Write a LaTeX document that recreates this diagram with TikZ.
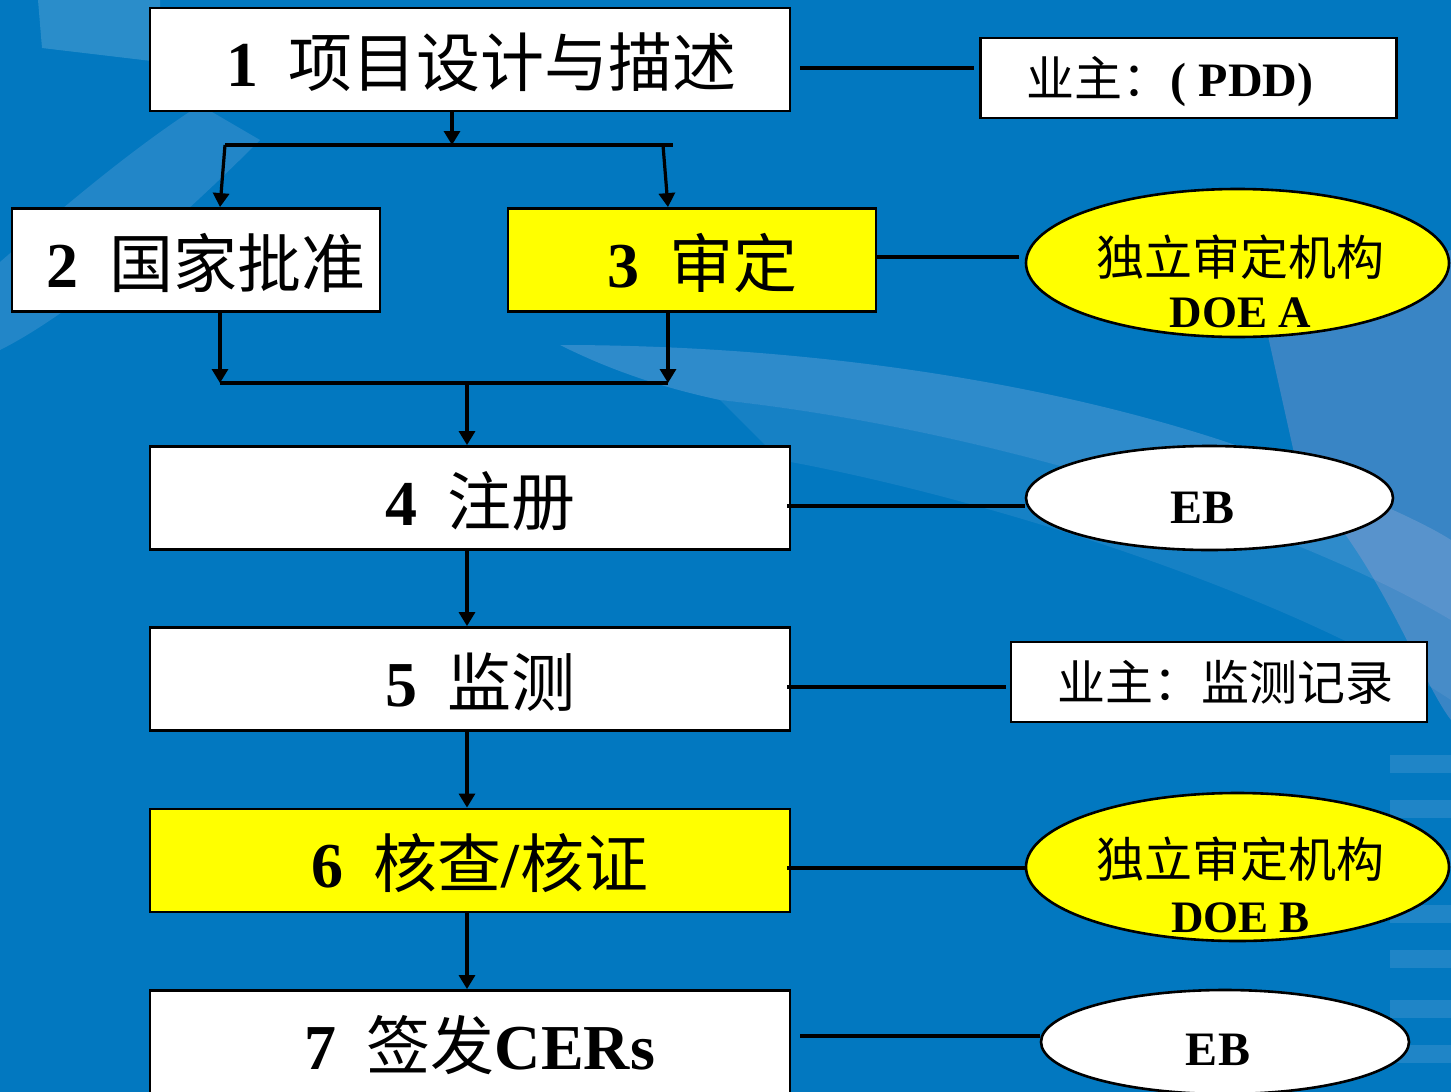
\documentclass[tikz,border=0pt]{standalone}
\usepackage{fontspec}
\setmainfont{Liberation Serif}
\newfontfamily\cjk{Noto Sans CJK SC}
\usetikzlibrary{shapes.geometric,arrows.meta,calc}
\definecolor{bgblue}{RGB}{2,120,192}
\definecolor{lightblue}{RGB}{150,185,230}
\definecolor{pinkish}{RGB}{200,170,210}
\definecolor{boxyellow}{RGB}{255,255,0}
\begin{document}
\begin{tikzpicture}[x=1pt,y=-1pt,
  box/.style={draw=black,line width=2.8pt,fill=white,inner sep=0pt,
    minimum width=640pt,minimum height=103pt,text height=54pt,text depth=0pt,
    font=\fontsize{64}{70}\selectfont},
  ybox/.style={box,fill=boxyellow},
  sbox/.style={box,minimum width=368pt},
  rbox/.style={draw=black,line width=2.6pt,fill=white,inner sep=0pt,
    minimum width=416pt,minimum height=80pt,text height=36pt,text depth=0pt,
    font=\fontsize{48}{54}\selectfont},
  oval/.style={ellipse,draw=black,line width=2.6pt,inner sep=0pt},
  otext/.style={font=\fontsize{48}{54}\selectfont,inner sep=0pt,anchor=base},
  conn/.style={line width=3.2pt,draw=black},
  arr/.style={conn,-{Triangle[length=14pt,width=16pt]}},
]
\useasboundingbox (0,0) rectangle (1451,1092);
\clip (0,0) rectangle (1451,1092);
% ---------- background ----------
\fill[bgblue] (0,0) rectangle (1451,1092);
\fill[white,opacity=0.16] (38,0) -- (160,0) -- (160,62) -- (42,48) -- cycle;
\fill[lightblue,opacity=0.22] (0,262) .. controls (60,210) and (130,150) .. (200,105)
  -- (260,140) .. controls (150,250) and (60,320) .. (0,350) -- cycle;
\fill[lightblue,opacity=0.3] (560,345) .. controls (800,345) and (1050,380) .. (1250,450)
  .. controls (1350,490) and (1420,520) .. (1451,540) -- (1451,620)
  .. controls (1300,530) and (1000,430) .. (720,400) .. controls (650,385) and (600,365) .. (560,345) -- cycle;
\fill[lightblue,opacity=0.14] (720,400) .. controls (1000,430) and (1300,530) .. (1451,620)
  -- (1451,700) .. controls (1300,600) and (1000,500) .. (780,460) -- cycle;
\fill[pinkish,opacity=0.28] (1260,300) .. controls (1350,280) and (1420,260) .. (1451,250)
  -- (1451,720) .. controls (1420,680) and (1380,560) .. (1300,480) -- cycle;
\foreach \yy in {755,800,850,905,950,1000,1045} {
  \fill[lightblue,opacity=0.2] (1390,\yy) rectangle (1451,\yy+18);
}
% ---------- main boxes ----------
\node[box]  (box1) at (470,59.5)  {\hspace*{20pt}\textbf{1}\hspace{30pt}\makebox[445pt][s]{\cjk 项\hfill 目\hfill 设\hfill 计\hfill 与\hfill 描\hfill 述}};
\node[sbox] (box2) at (196,260)   {\hspace*{20pt}\textbf{2}\hspace{30pt}{\cjk 国家批准}};
\node[sbox,fill=boxyellow] (box3) at (692,260) {\hspace*{20pt}\textbf{3}\hspace{30pt}{\cjk 审定}};
\node[box]  (box4) at (470,498)   {\hspace*{20pt}\textbf{4}\hspace{30pt}{\cjk 注册}};
\node[box]  (box5) at (470,679)   {\hspace*{20pt}\textbf{5}\hspace{30pt}{\cjk 监测}};
\node[ybox] (box6) at (470,860.5) {\hspace*{20pt}\textbf{6}\hspace{30pt}{\cjk 核查}\textbf{/}{\cjk 核证}};
\node[box]  (box7) at (470,1042)  {\hspace*{20pt}\textbf{7}\hspace{30pt}{\cjk 签发}\textbf{CERs}};
% ---------- right side ----------
\node[rbox] (R1) at (1188.6,78) {{\cjk 业主：}\textbf{( PDD)}\hspace*{37pt}};
\node[rbox] (R5) at (1219,682)  {\hspace*{12pt}{\cjk 业主：监测记录}};
\node[oval,fill=boxyellow,minimum width=423pt,minimum height=148pt] (ellA) at (1237.5,263) {};
\node[oval,fill=white,minimum width=367pt,minimum height=104pt] (ellEB1) at (1209.5,498) {};
\node[oval,fill=boxyellow,minimum width=423pt,minimum height=148pt] (ellB) at (1237.5,867) {};
\node[oval,fill=white,minimum width=368pt,minimum height=104pt] (ellEB2) at (1225,1042) {};
\node[otext] (tA1) at ($(ellA.center)+(3,12)$) {\cjk 独立审定机构};
\node[otext,font=\fontsize{45}{50}\selectfont\bfseries] (tA2) at ($(ellA.center)+(3,64.5)$) {DOE A};
\node[otext] (tB1) at ($(ellB.center)+(3,10.5)$) {\cjk 独立审定机构};
\node[otext,font=\fontsize{45}{50}\selectfont\bfseries] (tB2) at ($(ellB.center)+(3,65)$) {DOE B};
\node[otext,font=\fontsize{48}{54}\selectfont\bfseries] (tEB1) at ($(ellEB1.center)+(-7,25)$) {EB};
\node[otext,font=\fontsize{48}{54}\selectfont\bfseries] (tEB2) at ($(ellEB2.center)+(-7,23)$) {EB};
% ---------- connectors ----------
\coordinate (jA) at (452,145);
\coordinate (barL) at (225,145);
\coordinate (barR) at (673,145);
\coordinate (barR2) at (663,145);
\coordinate (bbL) at (220,383);
\coordinate (bbR) at (668,383);
\coordinate (bbM) at (467,383);
\draw[arr] (box1.south -| jA) -- (jA);
\draw[conn] (barL) -- (barR);
\draw[arr] (barL) -- ([xshift=24pt]box2.north);
\draw[arr] (barR2) -- ([xshift=-24pt]box3.north);
\draw[arr] ([xshift=24pt]box2.south) -- (bbL);
\draw[arr] ([xshift=-24pt]box3.south) -- (bbR);
\draw[conn] (bbL) -- (bbR);
\draw[arr] (bbM) -- (box4.north -| bbM);
\draw[arr] (box4.south -| bbM) -- (box5.north -| bbM);
\draw[arr] (box5.south -| bbM) -- (box6.north -| bbM);
\draw[arr] (box6.south -| bbM) -- (box7.north -| bbM);
\coordinate (h1) at (800,68);
\coordinate (h3) at (876,257);
\coordinate (h4) at (787,506);
\coordinate (h5) at (787,687);
\coordinate (h6) at (787,868);
\coordinate (h7) at (800,1036);
\draw[conn] (h1) -- ([xshift=-5pt]h1 -| R1.west);
\draw[conn] (h3) -- ([xshift=-6pt]h3 -| ellA.west);
\draw[conn] (h4) -- (h4 -| ellEB1.west);
\draw[conn] (h5) -- ([xshift=-4pt]h5 -| R5.west);
\draw[conn] (h6) -- (h6 -| ellB.west);
\draw[conn] (h7) -- (h7 -| ellEB2.west);
\end{tikzpicture}
\end{document}
